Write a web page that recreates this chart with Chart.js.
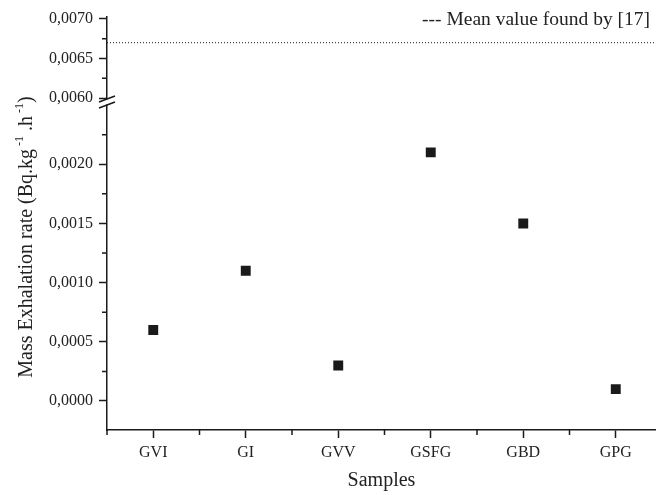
<!DOCTYPE html>
<html>
<head>
<meta charset="utf-8">
<script src="https://cdn.jsdelivr.net/npm/chart.js@4/dist/chart.umd.min.js"></script>
<style>
    body { margin: 0; background: #fff; }
    canvas { display: block; }
</style>
</head>
<body>
<canvas id="chart" width="656" height="495"></canvas>
<script>
const samples = ['GVI', 'GI', 'GVV', 'GSFG', 'GBD', 'GPG'];
const exhalationRate = [0.0006, 0.0011, 0.0003, 0.0021, 0.0015, 0.0001];
const meanValueRef = 0.0067;
const lowerMajor = [0, 0.0005, 0.001, 0.0015, 0.002];
const lowerMinor = [0.00025, 0.00075, 0.00125, 0.00175, 0.00225];
const upperMajor = [0.006, 0.0065, 0.007];
const upperMinor = [0.00625, 0.00675];
const xMinor = [0.5, 1.5, 2.5, 3.5, 4.5, 5.5];

const ink = '#1a1a1a';
const serif = "'Liberation Serif', 'DejaVu Serif', serif";

function fmt(v) {
    return v.toFixed(4).replace('.', ',');
}

// minor ticks, break marks, y title, legend text
const extras = {
    id: 'extras',
    afterDraw(chart) {
        const ctx = chart.ctx;
        const xs = chart.scales.x;
        const yLow = chart.scales.y;
        const yTop = chart.scales.yTop;
        ctx.save();
        ctx.strokeStyle = ink;
        ctx.lineWidth = 1.5;

        ctx.beginPath();
        lowerMinor.forEach(v => {
            const p = yLow.getPixelForValue(v);
            ctx.moveTo(yLow.right - 5, p);
            ctx.lineTo(yLow.right, p);
        });
        upperMinor.forEach(v => {
            const p = yTop.getPixelForValue(v);
            ctx.moveTo(yTop.right - 5, p);
            ctx.lineTo(yTop.right, p);
        });
        xMinor.forEach(v => {
            const p = xs.getPixelForValue(v);
            ctx.moveTo(p, xs.top);
            ctx.lineTo(p, xs.top + 5);
        });
        ctx.stroke();

        // axis break
        const bx = yLow.right;
        const by = yTop.bottom;
        ctx.fillStyle = '#fff';
        ctx.fillRect(bx - 2, by - 2, 4, 5);
        ctx.beginPath();
        ctx.moveTo(bx - 8, by + 0.5);
        ctx.lineTo(bx + 8, by - 5.5);
        ctx.moveTo(bx - 8, by + 6.5);
        ctx.lineTo(bx + 8, by + 0.5);
        ctx.stroke();

        // y title with superscripts
        const parts = [
            ['Mass Exhalation rate (Bq.kg', false],
            [' -1', true],
            [' .h', false],
            [' -1', true],
            [')', false]
        ];
        const big = '20px ' + serif;
        const small = '12px ' + serif;
        let total = 0;
        parts.forEach(p => {
            ctx.font = p[1] ? small : big;
            total += ctx.measureText(p[0]).width;
        });
        ctx.translate(27, 237);
        ctx.rotate(-Math.PI / 2);
        ctx.fillStyle = '#222';
        ctx.textBaseline = 'middle';
        let cx = -total / 2;
        parts.forEach(p => {
            ctx.font = p[1] ? small : big;
            ctx.fillText(p[0], cx, p[1] ? -7 : 0);
            cx += ctx.measureText(p[0]).width;
        });
        ctx.setTransform(1, 0, 0, 1, 0, 0);

        ctx.font = '19.5px ' + serif;
        ctx.textAlign = 'right';
        ctx.textBaseline = 'middle';
        ctx.fillText('--- Mean value found by [17]', 650, 20);
        ctx.restore();
    }
};

const points = samples.map((s, i) => ({ x: i + 1, y: exhalationRate[i] }));

new Chart(document.getElementById('chart'), {
    type: 'scatter',
    data: {
        datasets: [
            {
                data: points,
                yAxisID: 'y',
                pointStyle: 'rect',
                pointRadius: 7,
                pointHoverRadius: 7,
                backgroundColor: ink,
                borderColor: ink,
                borderWidth: 0
            },
            {
                type: 'line',
                data: [{ x: 0.5, y: meanValueRef }, { x: 6.5, y: meanValueRef }],
                yAxisID: 'yTop',
                borderColor: ink,
                borderWidth: 1,
                borderDash: [1, 2],
                pointRadius: 0
            }
        ]
    },
    options: {
        responsive: false,
        animation: false,
        layout: { autoPadding: false, padding: { top: 17, right: 0, bottom: 0, left: 0 } },
        plugins: { legend: { display: false }, tooltip: { enabled: false } },
        scales: {
            x: {
                type: 'linear',
                min: 0.5,
                max: 6.435,
                afterBuildTicks: s => { s.ticks = samples.map((n, i) => ({ value: i + 1 })); },
                afterFit: s => {
                    s.height = 65;
                    s.paddingLeft = 0;
                    s.paddingRight = 0;
                },
                ticks: {
                    callback: v => samples[Math.round(v) - 1],
                    color: '#222',
                    font: { family: serif, size: 16 },
                    padding: 5,
                    maxRotation: 0
                },
                grid: { drawOnChartArea: false, tickLength: 8, tickWidth: 1.5, tickColor: ink },
                border: { color: ink, width: 1.5 },
                title: {
                    display: true,
                    text: 'Samples',
                    color: '#222',
                    font: { family: serif, size: 20 },
                    padding: { top: 0, bottom: 2 }
                }
            },
            y: {
                type: 'linear',
                position: 'left',
                stack: 'ys',
                stackWeight: 328.5,
                min: -0.000245,
                max: 0.00253,
                afterBuildTicks: s => { s.ticks = lowerMajor.map(v => ({ value: v })); },
                afterFit: s => { s.width = 107; },
                ticks: {
                    callback: v => fmt(v),
                    color: '#222',
                    font: { family: serif, size: 16 },
                    padding: 6
                },
                grid: { drawOnChartArea: false, tickLength: 8, tickWidth: 1.5, tickColor: ink },
                border: { color: ink, width: 1.5 }
            },
            yTop: {
                type: 'linear',
                position: 'left',
                stack: 'ys',
                stackWeight: 84.5,
                offset: false,
                min: 0.005956,
                max: 0.007025,
                afterBuildTicks: s => { s.ticks = upperMajor.map(v => ({ value: v })); },
                afterFit: s => { s.width = 107; },
                ticks: {
                    callback: v => fmt(v),
                    color: '#222',
                    font: { family: serif, size: 16 },
                    padding: 6
                },
                grid: { drawOnChartArea: false, tickLength: 8, tickWidth: 1.5, tickColor: ink },
                border: { color: ink, width: 1.5 }
            }
        }
    },
    plugins: [extras]
});
</script>
</body>
</html>
